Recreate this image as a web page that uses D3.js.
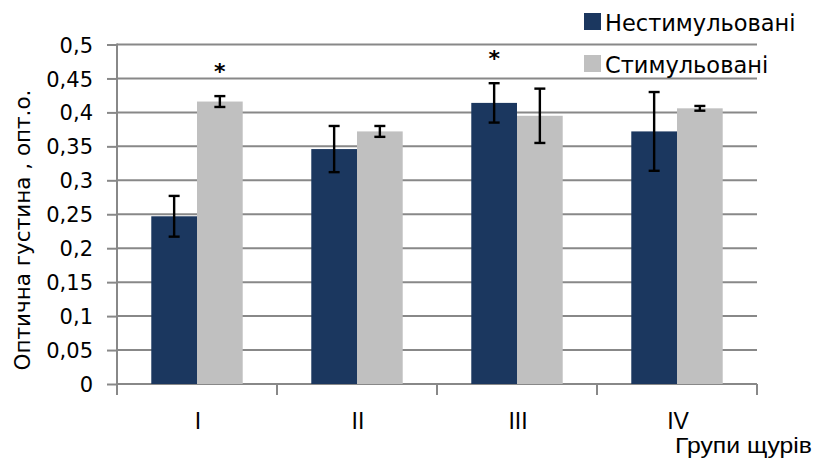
<!DOCTYPE html>
<html><head><meta charset="utf-8">
<script src="https://cdn.jsdelivr.net/npm/d3@7"></script>
<style>
html,body{margin:0;padding:0;background:#fff;}
svg{display:block;}
</style></head>
<body>
<svg id="chart" width="817" height="458"></svg>
<script>
// ---- data ----
const categories = ["I", "II", "III", "IV"];
const seriesNames = ["Нестимульовані", "Стимульовані"];
const unstimulated = [0.247, 0.346, 0.414, 0.372];
const unstimulatedErr = [0.030, 0.034, 0.029, 0.058];
const stimulated = [0.416, 0.372, 0.395, 0.406];
const stimulatedErr = [0.008, 0.008, 0.040, 0.0035];
const unstimulatedSig = [false, false, true, false];
const stimulatedSig = [true, false, false, false];
const yTicks = [0, 0.05, 0.1, 0.15, 0.2, 0.25, 0.3, 0.35, 0.4, 0.45, 0.5];
const yTitle = "Оптична густина , опт.о.";
const xTitle = "Групи щурів";
const colors = ["#1b375f", "#c0c0c0"];

(function () {
const svg = d3.select("#chart");
const pL = 117, pR = 757, pT = 44.5, pB = 384;
const x = d3.scaleBand().domain(categories).range([pL, pR]).padding(0);
const y = d3.scaleLinear().domain([0, 0.5]).range([pB, pT]);
const barW = x.bandwidth() / 3.5;
const fmt = v => String(+v.toFixed(2)).replace(".", ",");
const gridCol = "#888888";

// grid
svg.append("g").selectAll("line").data(yTicks.filter(d => d > 0)).join("line")
  .attr("x1", pL).attr("x2", pR)
  .attr("y1", d => y(d)).attr("y2", d => y(d))
  .attr("stroke", gridCol).attr("stroke-width", 2);

// y axis
const yAxis = svg.append("g").attr("transform", `translate(${pL},0)`)
  .call(d3.axisLeft(y).tickValues(yTicks).tickFormat(fmt).tickSize(10).tickPadding(14));
yAxis.select(".domain").remove();
yAxis.selectAll(".tick line").attr("stroke", gridCol).attr("stroke-width", 2);
yAxis.selectAll(".tick text").attr("fill", "#000")
  .style("font-family", "DejaVu Sans").style("font-size", "21px").attr("dy", "0.36em");
svg.append("line").attr("x1", pL).attr("x2", pL).attr("y1", pT - 1).attr("y2", pB + 11)
  .attr("stroke", gridCol).attr("stroke-width", 2);

// x axis
svg.append("line").attr("x1", pL).attr("x2", pR).attr("y1", pB).attr("y2", pB)
  .attr("stroke", gridCol).attr("stroke-width", 2);
const bounds = categories.map(c => x(c)).concat([pR]);
svg.append("g").selectAll("line").data(bounds).join("line")
  .attr("x1", d => d).attr("x2", d => d).attr("y1", pB).attr("y2", pB + 11)
  .attr("stroke", gridCol).attr("stroke-width", 2);
svg.append("g").selectAll("text").data(categories).join("text")
  .attr("x", d => x(d) + x.bandwidth() / 2 + 1).attr("y", 429)
  .attr("text-anchor", "middle")
  .style("font-family", "Liberation Sans Narrow, Liberation Sans").style("font-size", "23px")
  .text(d => d);
svg.append("text").attr("x", 675).attr("y", 453)
  .attr("textLength", 137).attr("lengthAdjust", "spacingAndGlyphs")
  .style("font-family", "Liberation Sans Narrow, Liberation Sans").style("font-size", "22px")
  .text(xTitle);

// bars
const series = [
  {vals: unstimulated, err: unstimulatedErr, sig: unstimulatedSig, off: -1},
  {vals: stimulated, err: stimulatedErr, sig: stimulatedSig, off: 0}
];
series.forEach((s, si) => {
  const g = svg.append("g");
  const bx = (c) => x(c) + x.bandwidth() / 2 + s.off * barW;
  g.selectAll("rect").data(categories).join("rect")
    .attr("x", bx).attr("width", barW)
    .attr("y", (c, i) => y(s.vals[i])).attr("height", (c, i) => pB - y(s.vals[i]))
    .attr("fill", colors[si]);
  const eg = g.append("g").attr("stroke", "#000").attr("stroke-width", 2.4);
  categories.forEach((c, i) => {
    const cx = bx(c) + barW / 2;
    const hi = y(s.vals[i] + s.err[i]), lo = y(s.vals[i] - s.err[i]);
    eg.append("line").attr("x1", cx).attr("x2", cx).attr("y1", hi).attr("y2", lo);
    eg.append("line").attr("x1", cx - 5.5).attr("x2", cx + 5.5).attr("y1", hi).attr("y2", hi);
    eg.append("line").attr("x1", cx - 5.5).attr("x2", cx + 5.5).attr("y1", lo).attr("y2", lo);
    if (s.sig[i]) {
      g.append("text").attr("x", cx).attr("y", hi - 17).attr("text-anchor", "middle")
        .style("font-family", "DejaVu Sans").style("font-size", "22px").style("font-weight", "bold")
        .text("*");
    }
  });
});

// legend
const leg = svg.append("g");
seriesNames.forEach((n, i) => {
  const ly = 13 + i * 42;
  leg.append("rect").attr("x", 584).attr("y", ly).attr("width", 17).attr("height", 17).attr("fill", colors[i]);
  leg.append("text").attr("x", 605).attr("y", ly + 17.5)
    .style("font-family", "DejaVu Sans").style("font-size", "22.5px").text(n);
});

// y title
svg.append("text").attr("transform", "translate(30,230) rotate(-90)").attr("text-anchor", "middle")
  .style("font-family", "DejaVu Sans").style("font-size", "21.5px").text(yTitle);
})();
</script>
</body></html>
